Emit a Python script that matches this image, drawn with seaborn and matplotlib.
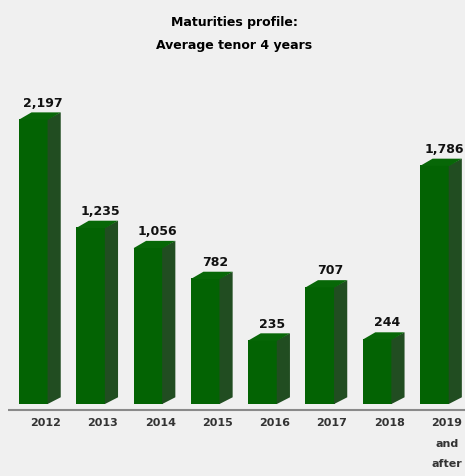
import pandas as pd
import seaborn as sns
import matplotlib.pyplot as plt
from matplotlib.patches import Polygon

# data
years = ['2012', '2013', '2014', '2015', '2016', '2017', '2018', '2019\nand\nafter']
amounts = [2197, 1235, 1056, 782, 235, 707, 244, 1786]
value_labels = ['2,197', '1,235', '1,056', '782', '235', '707', '244', '1,786']
title_lines = ['Maturities profile:', 'Average tenor 4 years']

front_col = '#036303'
side_col = '#214d21'
top_col = '#076707'
bg = '#f0f0f0'

sns.set_style('white')
plt.rcParams['font.family'] = ['Liberation Sans Narrow', 'DejaVu Sans']

fig = plt.figure(figsize=(4.65, 4.76), dpi=100, facecolor=bg)
ax = fig.add_axes([0, 0, 1, 1])
ax.set_facecolor(bg)

floor = 333          # 3D floor sits below zero
dx, dy = 0.22, 60    # depth offset in data units
w = 0.51

df = pd.DataFrame({'year': years, 'h': [a + floor for a in amounts]})
sns.barplot(data=df, x='year', y='h', color=front_col, width=w,
            bottom=-floor, saturation=1, ax=ax, linewidth=0)

#%% sides and tops
for i, a in enumerate(amounts):
    xl, xr = i - w / 2, i + w / 2
    yb, yt = -floor, a
    ax.add_patch(Polygon([(xr - 0.01, yb), (xr + dx, yb + dy), (xr + dx, yt + dy), (xr - 0.01, yt)],
                         closed=True, fc=side_col, ec='none'))
    ax.add_patch(Polygon([(xl, yt - 5), (xl + dx, yt + dy), (xr + dx, yt + dy), (xr, yt - 5)],
                         closed=True, fc=top_col, ec='none'))
    ax.text(i + dx / 2 + 0.06, yt + dy + 25, value_labels[i], ha='center', va='bottom',
            fontsize=9, fontweight='bold', color='#111111')
    ax.text(i + dx / 2 + 0.1, -455, years[i], ha='center', va='top',
            fontsize=8, fontweight='bold', color='#333333', linespacing=2.35)

ax.plot([-0.45, 7.6], [-388, -388], color='#8a8a8a', lw=1.5, solid_capstyle='butt')

ax.text(3.5, 3055, title_lines[0], ha='center', va='center', fontsize=9,
        fontweight='bold', color='black')
ax.text(3.5, 2850, title_lines[1], ha='center', va='center', fontsize=9,
        fontweight='bold', color='black')

ax.set_xlim(-0.585, 7.53)
ax.set_ylim(-972, 3255)
ax.set_axis_off()

plt.savefig('out.png', dpi=100, facecolor=bg)
